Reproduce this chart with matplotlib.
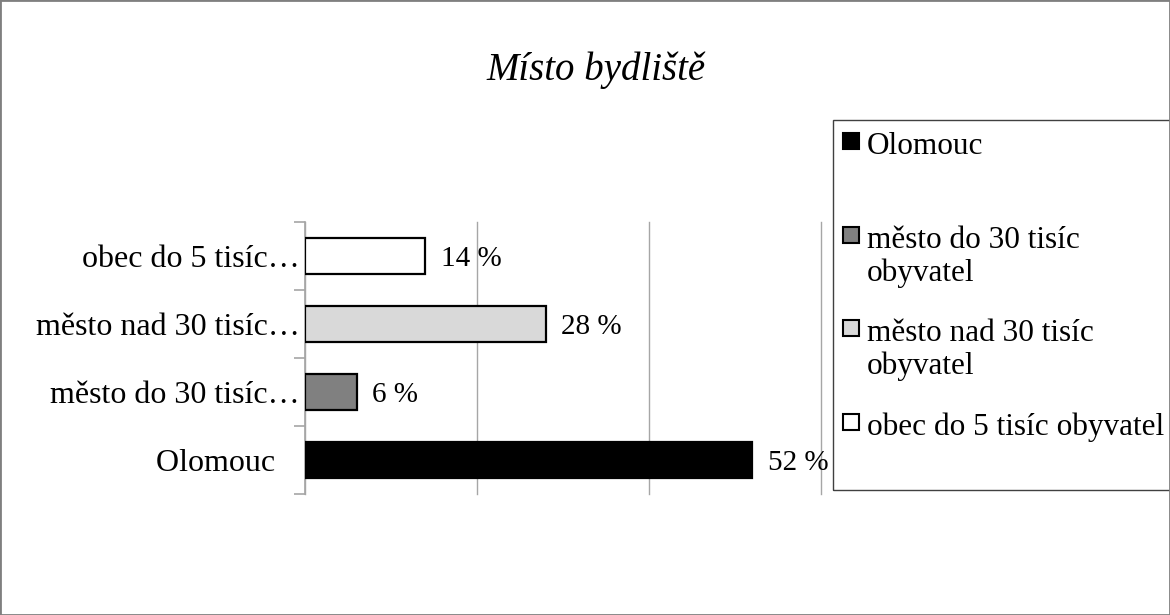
import matplotlib.pyplot as plt
from matplotlib.patches import Rectangle

plt.rcParams['font.family'] = ['Liberation Serif', 'DejaVu Serif']

title = "Místo bydliště"
categories = ["Olomouc", "město do 30 tisíc obyvatel", "město nad 30 tisíc obyvatel", "obec do 5 tisíc obyvatel"]
tick_labels = ["Olomouc   ", "město do 30 tisíc…", "město nad 30 tisíc…", "obec do 5 tisíc…"]
legend_labels = ["Olomouc", "město do 30 tisíc\nobyvatel", "město nad 30 tisíc\nobyvatel", "obec do 5 tisíc obyvatel"]
values = [0.52, 0.06, 0.28, 0.14]
colors = ["#000000", "#808080", "#d9d9d9", "#ffffff"]

fig = plt.figure(figsize=(11.7, 6.15), dpi=100)
ax = fig.add_axes([305 / 1170, 121 / 615, 516 / 1170, 272 / 615])

ypos = range(len(categories))
ax.barh(ypos, values, height=0.52, color=colors, edgecolor="black", linewidth=1.6, zorder=3)

for y, v in zip(ypos, values):
    ax.text(v + 0.018, y, f"{round(v * 100)} %", va="center_baseline", ha="left", fontsize=21, zorder=4)

ax.set_xlim(0, 0.6)
ax.set_ylim(-0.5, 3.5)
ax.set_xticks([0, 0.2, 0.4, 0.6])
ax.set_xticklabels([])
ax.tick_params(axis="x", length=0)
ax.grid(axis="x", color="#a6a6a6", linewidth=1, zorder=0)
for gl in ax.get_xgridlines():
    gl.set_clip_on(False)

ax.set_yticks(list(ypos))
ax.set_yticklabels(tick_labels, fontsize=23, va="center_baseline")
ax.set_yticks([-0.5, 0.5, 1.5, 2.5, 3.5], minor=True)
ax.tick_params(axis="y", which="major", length=0, pad=4)
ax.tick_params(axis="y", which="minor", length=8, color="#a6a6a6", width=1.2)

for s in ["top", "right", "bottom"]:
    ax.spines[s].set_visible(False)
ax.spines["left"].set_color("#a6a6a6")
ax.spines["left"].set_linewidth(1.2)

fig.text(596 / 1170, 1 - 70 / 615, title, ha="center", va="center", fontsize=28, style="italic")

# legend drawn by hand to keep even spacing between entries
fig.patches.append(Rectangle((833 / 1170, 1 - 490 / 615), 0.4, 370 / 615, transform=fig.transFigure,
                             facecolor="none", edgecolor="#404040", linewidth=1))
entry_y = [141, 235, 328, 422]
for lab, col, yy in zip(legend_labels, colors, entry_y):
    fig.patches.append(Rectangle((843 / 1170, 1 - (yy + 8) / 615), 16 / 1170, 16 / 615, transform=fig.transFigure,
                                 facecolor=col, edgecolor="black", linewidth=1.5))
    fig.text(867 / 1170, 1 - (yy - 9) / 615, lab, ha="left", va="top", fontsize=22.5, linespacing=1.17)

# outer frame
fig.patches.append(Rectangle((0, 0), 1, 1, transform=fig.transFigure, facecolor="none",
                             edgecolor="#7f7f7f", linewidth=2))

fig.savefig("out.png", dpi=100)
